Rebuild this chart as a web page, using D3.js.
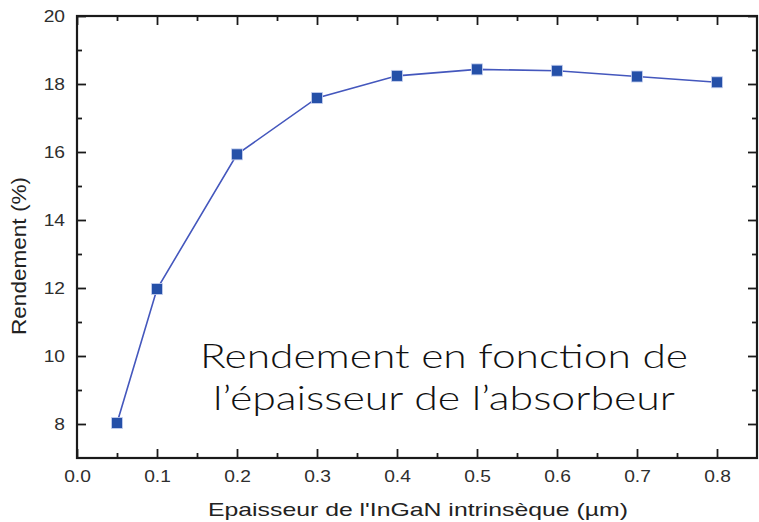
<!DOCTYPE html>
<html><head><meta charset="utf-8">
<script src="https://cdn.jsdelivr.net/npm/d3@7"></script>
<style>body{margin:0;background:#fff}svg{display:block}</style>
</head><body>
<svg id="c" width="759" height="522"></svg>
<script>
const thickness = [0.05, 0.1, 0.2, 0.3, 0.4, 0.5, 0.6, 0.7, 0.8];
const rendement = [8.03, 11.97, 15.93, 17.59, 18.24, 18.43, 18.39, 18.22, 18.05];
const xMajor = [0, 0.1, 0.2, 0.3, 0.4, 0.5, 0.6, 0.7, 0.8];
const xMinor = [0.05, 0.15, 0.25, 0.35, 0.45, 0.55, 0.65, 0.75];
const yMajor = [8, 10, 12, 14, 16, 18, 20];
const yMinor = [9, 11, 13, 15, 17, 19];
const xTitle = "Epaisseur de l'InGaN intrinsèque (µm)";
const yTitle = "Rendement (%)";
const note = ["Rendement en fonction de", "l’épaisseur de l’absorbeur"];

const svg = d3.select("#c");
const L = 77, R = 757, T = 16, B = 458;
const x = d3.scaleLinear().domain([0, 0.85]).range([L, R]);
const y = d3.scaleLinear().domain([7, 20]).range([B, T]);
const font = "'Liberation Sans', Arial, sans-serif";
const axisCol = "#1a1a1a";

function style(g) {
  g.select(".domain").remove();
  g.selectAll(".tick line").attr("stroke", axisCol).attr("stroke-width", 1.8);
  g.selectAll(".tick text").attr("fill", "#2e2e2e").attr("font-family", font).attr("font-size", 16);
}
// bottom
const gb = svg.append("g").attr("transform", `translate(0,${B})`)
  .call(d3.axisBottom(x).tickValues(xMajor).tickSize(-9).tickPadding(12.6).tickFormat(d3.format(".1f")));
style(gb);
gb.selectAll(".tick text").attr("transform", "scale(1.2,1)");
svg.append("g").attr("transform", `translate(0,${B})`)
  .call(d3.axisBottom(x).tickValues(xMinor).tickSize(-5).tickFormat("")).call(style);
// top
svg.append("g").attr("transform", `translate(0,${T})`)
  .call(d3.axisTop(x).tickValues(xMajor).tickSize(-9).tickFormat("")).call(style);
svg.append("g").attr("transform", `translate(0,${T})`)
  .call(d3.axisTop(x).tickValues(xMinor).tickSize(-5).tickFormat("")).call(style);
// left
const gl = svg.append("g").attr("transform", `translate(${L},0)`)
  .call(d3.axisLeft(y).tickValues(yMajor).tickSize(-9).tickPadding(10).tickFormat(d3.format("d")));
style(gl);
gl.selectAll(".tick text").attr("transform", "scale(1.2,1)");
svg.append("g").attr("transform", `translate(${L},0)`)
  .call(d3.axisLeft(y).tickValues(yMinor).tickSize(-5).tickFormat("")).call(style);
// right
svg.append("g").attr("transform", `translate(${R},0)`)
  .call(d3.axisRight(y).tickValues(yMajor).tickSize(-9).tickFormat("")).call(style);
svg.append("g").attr("transform", `translate(${R},0)`)
  .call(d3.axisRight(y).tickValues(yMinor).tickSize(-5).tickFormat("")).call(style);

// frame
svg.append("rect").attr("x", L).attr("y", T).attr("width", R - L).attr("height", B - T)
  .attr("fill", "none").attr("stroke", axisCol).attr("stroke-width", 2.2);

// line + markers
const data = thickness.map((t, i) => ({t, v: rendement[i]}));
svg.append("path").datum(data)
  .attr("d", d3.line().x(d => x(d.t)).y(d => y(d.v)))
  .attr("fill", "none").attr("stroke", "#4457bd").attr("stroke-width", 1.6);
const s = 11;
svg.selectAll("rect.m").data(data).join("rect").attr("class", "m")
  .attr("x", d => x(d.t) - s / 2).attr("y", d => y(d.v) - s / 2)
  .attr("width", s).attr("height", s)
  .attr("fill", "#2550a8").attr("stroke", "#c9d2f0").attr("stroke-width", 0.8);

// axis titles
svg.append("text").attr("x", 418).attr("y", 516).attr("text-anchor", "middle")
  .attr("font-family", font).attr("font-size", 19).attr("fill", "#222")
  .attr("textLength", 420).attr("lengthAdjust", "spacingAndGlyphs").text(xTitle);
svg.append("text").attr("transform", "translate(26,256) rotate(-90)").attr("text-anchor", "middle")
  .attr("font-family", font).attr("font-size", 21).attr("fill", "#222")
  .attr("textLength", 158).attr("lengthAdjust", "spacingAndGlyphs").text(yTitle);

// annotation
const nf = "Lato, 'Open Sans', sans-serif";
svg.append("text").attr("x", 444).attr("y", 368).attr("text-anchor", "middle")
  .attr("font-family", nf).attr("font-weight", 300).attr("font-size", 33).attr("fill", "#111")
  .attr("textLength", 488).attr("lengthAdjust", "spacingAndGlyphs").text(note[0]);
svg.append("text").attr("x", 444).attr("y", 410).attr("text-anchor", "middle")
  .attr("font-family", nf).attr("font-weight", 300).attr("font-size", 33).attr("fill", "#111")
  .attr("textLength", 462).attr("lengthAdjust", "spacingAndGlyphs").text(note[1]);
</script>
</body></html>
